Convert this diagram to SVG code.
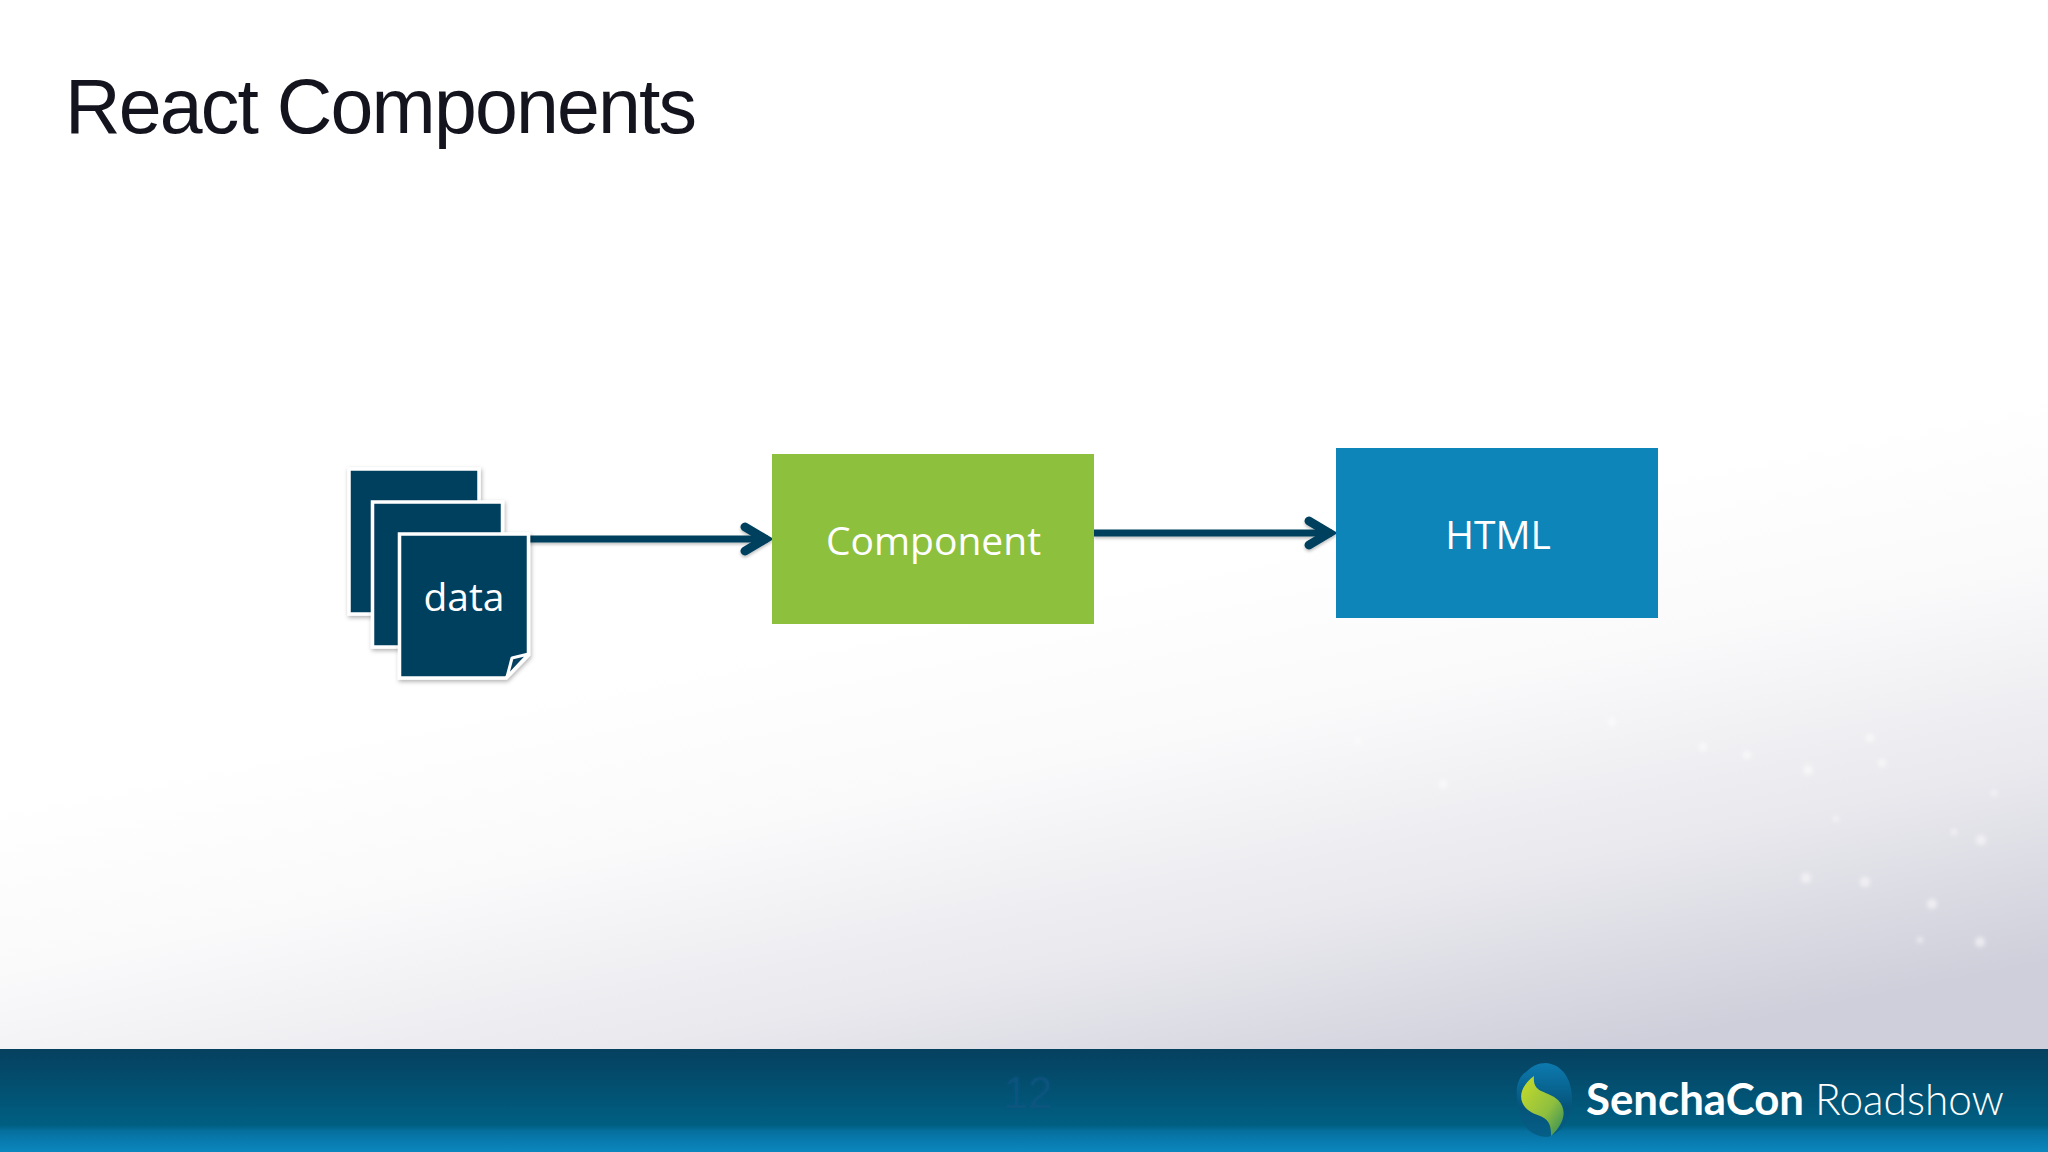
<svg xmlns="http://www.w3.org/2000/svg" width="2048" height="1152" viewBox="0 0 2048 1152">
<style>
.lbl{font-family:"Open Sans","Noto Sans",sans-serif;font-size:39px;fill:#fff;text-anchor:middle}
.page{fill:#06415f;stroke:#fff;stroke-width:3.5;filter:url(#sh)}
.conn{fill:none;stroke:#06415f;stroke-width:7}
.dot{fill:#fff;opacity:.55;filter:url(#bl)}
</style>
<defs>
<linearGradient id="bg" gradientUnits="userSpaceOnUse" x1="1000" y1="600" x2="1110" y2="1150">
<stop offset="0" stop-color="#fff"/><stop offset=".3" stop-color="#fafafb"/><stop offset=".65" stop-color="#e9e9ee"/><stop offset="1" stop-color="#cfcfdb"/>
</linearGradient>
<linearGradient id="bar" x1="0" y1="0" x2="0" y2="1">
<stop offset="0" stop-color="#06405f"/><stop offset=".74" stop-color="#005f82"/><stop offset=".8" stop-color="#06709f"/><stop offset="1" stop-color="#0b87bf"/>
</linearGradient>
<linearGradient id="leaf" x1="0" y1="0" x2="1" y2="1">
<stop offset="0" stop-color="#c8dc2a"/><stop offset=".6" stop-color="#8fbf3f"/><stop offset="1" stop-color="#2f8a5a"/>
</linearGradient>
<linearGradient id="orb" x1="0" y1="0" x2="0" y2="1">
<stop offset="0" stop-color="#0d7ab0"/><stop offset=".6" stop-color="#05547a"/><stop offset="1" stop-color="#055f88"/>
</linearGradient>
<filter id="sh" x="-10%" y="-10%" width="125%" height="125%"><feDropShadow dx="1" dy="2" stdDeviation="2" flood-color="#000" flood-opacity=".3"/></filter>
<filter id="sh2" filterUnits="userSpaceOnUse" x="500" y="480" width="880" height="110"><feDropShadow dx="0" dy="2" stdDeviation="1.500" flood-color="#000" flood-opacity=".25"/></filter>
<filter id="bl" x="-100%" y="-100%" width="300%" height="300%"><feGaussianBlur stdDeviation="2"/></filter>
<filter id="bl1" x="-20%" y="-20%" width="140%" height="140%"><feGaussianBlur stdDeviation="1.500"/></filter>
<marker id="arr" markerUnits="userSpaceOnUse" markerWidth="40" markerHeight="40" refX="33" refY="20" orient="auto" overflow="visible">
<path d="M10,8 L30,20 L10,32" fill="none" stroke="#06415f" stroke-width="9" stroke-linecap="round" stroke-linejoin="miter"/>
</marker>
</defs>
<rect width="2048" height="1152" fill="url(#bg)"/>
<g id="sparkles">
<circle class="dot" cx="1870" cy="738" r="4"/><circle class="dot" cx="1882" cy="763" r="4"/><circle class="dot" cx="1808" cy="770" r="5"/><circle class="dot" cx="1703" cy="747" r="4"/><circle class="dot" cx="1747" cy="755" r="4"/><circle class="dot" cx="1994" cy="793" r="3"/><circle class="dot" cx="1981" cy="840" r="5"/><circle class="dot" cx="1954" cy="832" r="3"/><circle class="dot" cx="1836" cy="819" r="3"/><circle class="dot" cx="1865" cy="882" r="5"/><circle class="dot" cx="1806" cy="878" r="5"/><circle class="dot" cx="1932" cy="904" r="5"/><circle class="dot" cx="1980" cy="942" r="5"/><circle class="dot" cx="1920" cy="940" r="3"/><circle class="dot" cx="1443" cy="784" r="4"/><circle class="dot" cx="1358" cy="741" r="3"/><circle class="dot" cx="1612" cy="722" r="4"/>
</g>
<text id="title" x="65" y="133" font-family="'Liberation Sans',Arial,sans-serif" font-size="77" letter-spacing="-1.800" fill="#14141f">React Components</text>
<g id="connectors" filter="url(#sh2)">
<path class="conn" d="M528,539 H768" marker-end="url(#arr)"/>
<path class="conn" d="M1094,533 H1332" marker-end="url(#arr)"/>
</g>
<g id="data">
<rect class="page" x="349" y="469" width="130" height="145"/>
<rect class="page" x="372.500" y="502" width="130" height="145"/>
<path class="page" d="M399.500,534 H528.500 V655 L506,678 H399.500 Z"/>
<path d="M507,677 L512,658 L528.500,654 Z" fill="#06415f" stroke="#fff" stroke-width="3" stroke-linejoin="round"/>
<text class="lbl" x="464" y="611">data</text>
</g>
<g id="component">
<rect x="772" y="454" width="322" height="170" fill="#8dc03c"/>
<text class="lbl" x="933.500" y="555">Component</text>
</g>
<g id="html">
<rect x="1336" y="448" width="322" height="170" fill="#0e85b9"/>
<text class="lbl" x="1498" y="549">HTML</text>
</g>
<g id="footer">
<rect y="1049" width="2048" height="103" fill="url(#bar)"/>
<text x="1028" y="1108" font-family="'Liberation Sans',Arial,sans-serif" font-size="44" fill="#0a5480" text-anchor="middle" filter="url(#bl1)">12</text>
<g id="logo">
<path d="M1546,1063 C1566,1065 1573,1085 1572,1102 C1571,1120 1562,1132 1548,1137 C1534,1137 1520,1128 1520,1110 C1514,1095 1516,1078 1526,1072 C1532,1066 1538,1063 1546,1063 Z" fill="url(#orb)"/>
<path d="M1534,1076 C1518,1088 1518,1102 1528,1110 C1538,1118 1552,1114 1551,1136 C1564,1124 1568,1110 1558,1100 C1548,1090 1532,1094 1534,1076 Z" fill="url(#leaf)"/>
<text x="1586" y="1115" font-family="Lato,'Open Sans',sans-serif" font-size="44" font-weight="700" fill="#fff" textLength="218" lengthAdjust="spacingAndGlyphs">SenchaCon</text>
<text x="1815" y="1115" font-family="Lato,'Open Sans',sans-serif" font-size="44" font-weight="300" fill="#fff" textLength="189" lengthAdjust="spacingAndGlyphs">Roadshow</text>
</g>
</g>
</svg>
